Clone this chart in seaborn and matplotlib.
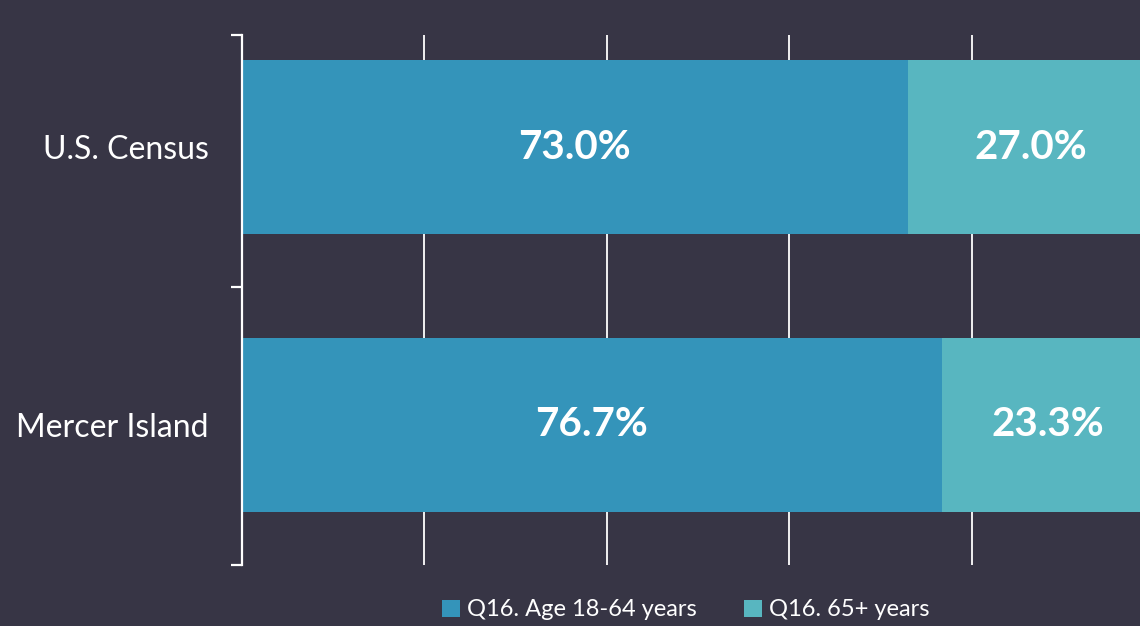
import matplotlib
matplotlib.use("Agg")
import matplotlib.pyplot as plt
import seaborn as sns
import pandas as pd
from matplotlib.patches import Patch

# data
groups = ['U.S. Census', 'Mercer Island']
age_18_64 = [73.0, 76.7]
age_65_plus = [27.0, 23.3]
series_names = ['Q16. Age 18-64 years', 'Q16. 65+ years']

bg = '#373545'
c1 = '#3494BA'
c2 = '#58B6C0'

df = pd.DataFrame({'group': groups, 'a': age_18_64, 'b': age_65_plus})
df['total'] = df['a'] + df['b']

sns.set_theme(style='dark')
plt.rcParams['font.family'] = ['Lato', 'DejaVu Sans']

fig = plt.figure(figsize=(11.4, 6.26), dpi=100, facecolor=bg)
ax = fig.add_axes([242/1140, 1 - 565/626, 912/1140, 530/626])
ax.set_facecolor(bg)

sns.barplot(data=df, x='total', y='group', color=c2, orient='h', width=0.626,
            saturation=1, linewidth=0, ax=ax, zorder=2)
sns.barplot(data=df, x='a', y='group', color=c1, orient='h', width=0.626,
            saturation=1, linewidth=0, ax=ax, zorder=3)

ax.set_xlim(0, 100)
ax.set_ylim(1.504, -0.403)

# gridlines
for gx in [20, 40, 60, 80]:
    ax.axvline(gx, color='white', lw=1.3, zorder=1)

for i, row in df.iterrows():
    ax.text(row['a'] / 2, i, f"{row['a']:.1f}%", ha='center', va='center',
            color='white', fontsize=29, fontweight='bold', zorder=5)
    ax.text(row['a'] + row['b'] / 2, i, f"{row['b']:.1f}%", ha='center', va='center',
            color='white', fontsize=29, fontweight='bold', zorder=5)

for s in ['top', 'right', 'bottom']:
    ax.spines[s].set_visible(False)
ax.spines['left'].set_color('white')
ax.spines['left'].set_linewidth(1.6)
ax.spines['left'].set_zorder(6)

ax.set_xticks([])
ax.set_xlabel('')
ax.set_ylabel('')
ax.set_yticks([0, 1])
ax.set_yticklabels(groups, color='white', fontsize=23)
ax.tick_params(axis='y', which='major', length=0, pad=24)
ax.set_yticks([-0.403, 0.504, 1.504], minor=True)
ax.tick_params(axis='y', which='minor', length=8, width=1.6, color='white', left=True)

handles = [Patch(facecolor=c1, edgecolor='none', label=series_names[0]),
           Patch(facecolor=c2, edgecolor='none', label=series_names[1])]
leg = fig.legend(handles=handles, loc='center', bbox_to_anchor=(686/1140, 1 - 610/626),
                 ncol=2, frameon=False, fontsize=17, handlelength=0.75, handleheight=0.75,
                 handletextpad=0.3, columnspacing=2.0, labelcolor='white')

fig.savefig('out.png', dpi=100, facecolor=bg)
